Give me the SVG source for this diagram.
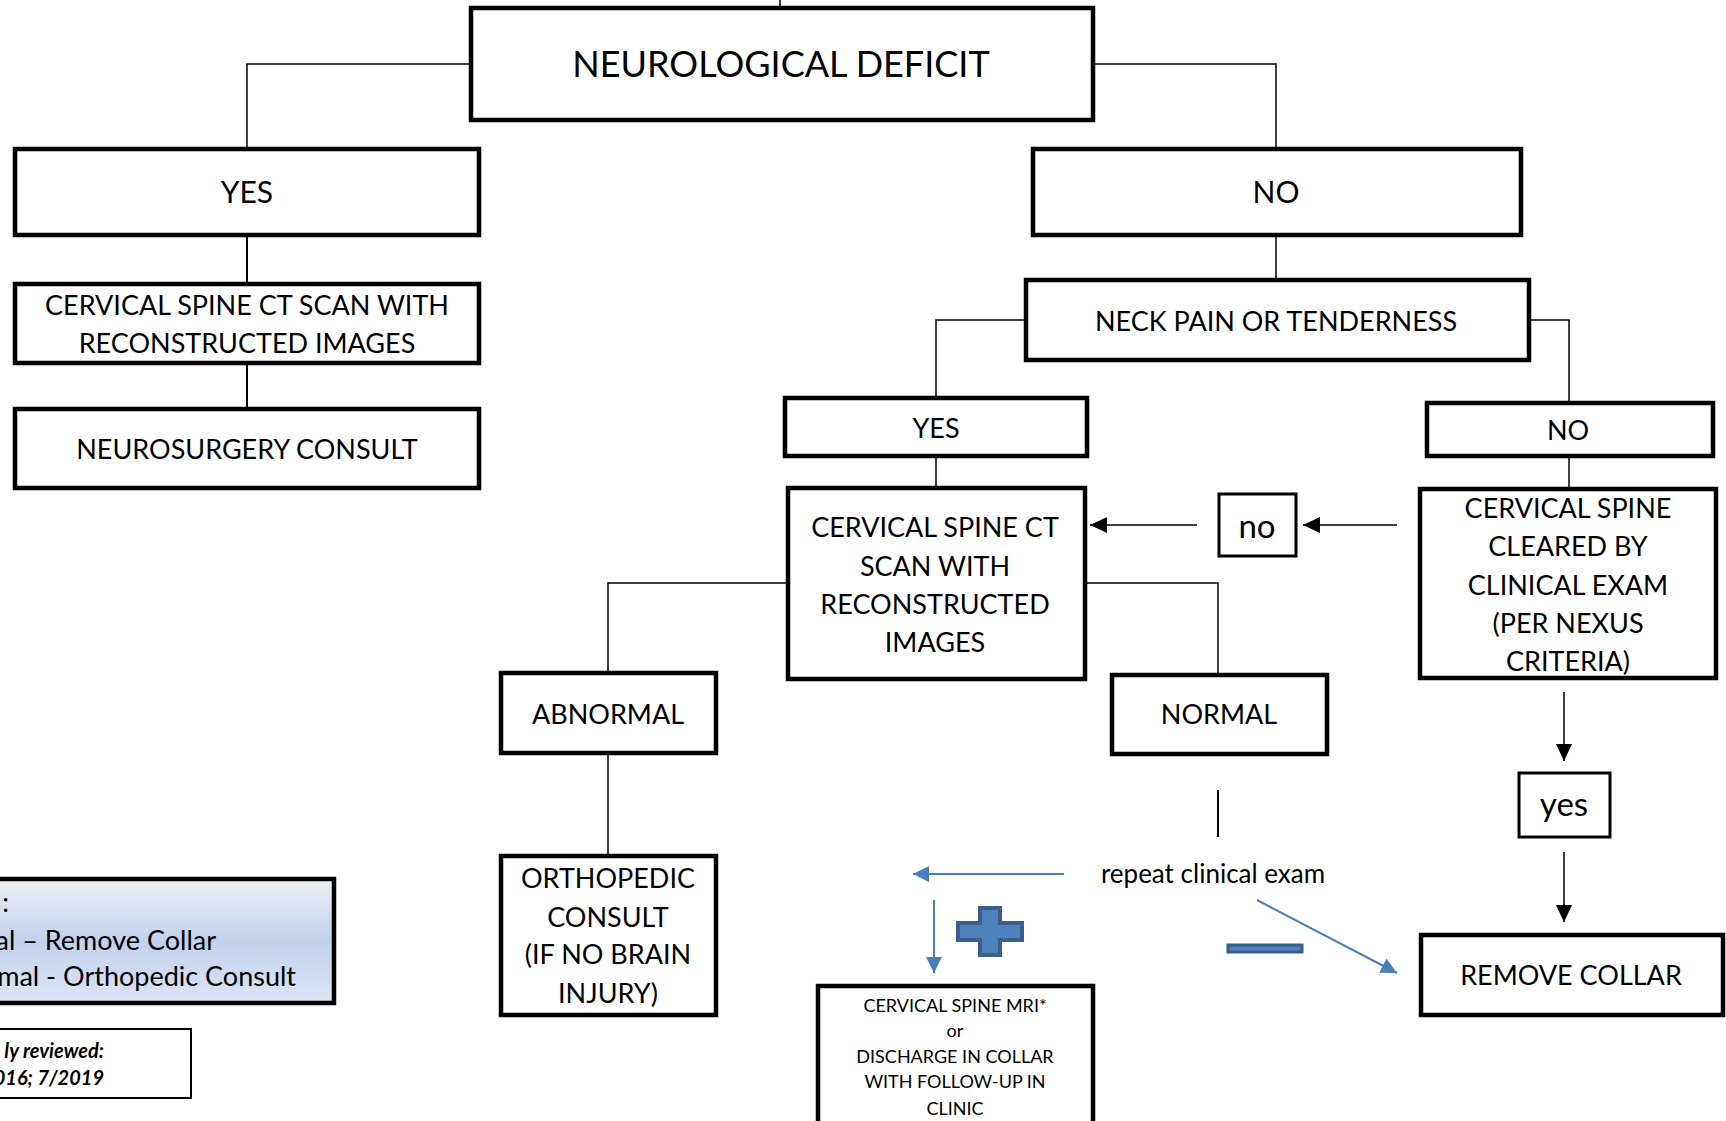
<svg xmlns="http://www.w3.org/2000/svg" width="1726" height="1121" viewBox="0 0 1726 1121">
<defs>
<style>
.box{fill:#fff;stroke:#000;stroke-width:4.5}
.sbox{fill:#fff;stroke:#000;stroke-width:3}
.c{fill:none;stroke:#000;stroke-width:1.5}
.c2{fill:none;stroke:#000;stroke-width:2}
.a{fill:none;stroke:#000;stroke-width:1.5;marker-end:url(#ah)}
.b{fill:none;stroke:#4a7ebb;stroke-width:2;marker-end:url(#bh)}
text{font-family:Lato,"Open Sans","Liberation Sans",sans-serif;fill:#000;text-anchor:middle}
.f1{font-size:36px}
.f2{font-size:30px}
.f3{font-size:27px}
.f5{font-size:33px}
.f6{font-size:26px}
.f4{font-size:18px}
.rv{font-size:20px;font-weight:bold;font-style:italic;text-anchor:end}
.lg{font-size:27px;text-anchor:end}
</style>
<marker id="ah" markerUnits="userSpaceOnUse" markerWidth="18" markerHeight="16" refX="17" refY="8" orient="auto">
<path d="M0,0 L17,8 L0,16 z" fill="#000"/>
</marker>
<marker id="bh" markerUnits="userSpaceOnUse" markerWidth="17" markerHeight="16" refX="16" refY="8" orient="auto">
<path d="M0,0 L16,8 L0,16 z" fill="#4a7ebb"/>
</marker>
<linearGradient id="lgGrad" x1="0" y1="0" x2="0" y2="1">
<stop offset="0" stop-color="#eef0f4"/>
<stop offset="0.5" stop-color="#c2d1ee"/>
<stop offset="1" stop-color="#dde5f4"/>
</linearGradient>
</defs>

<g id="connectors">
<line class="c" x1="780" y1="0" x2="780" y2="8"/>
<path class="c" d="M471,64 H247 V149"/>
<path class="c" d="M1093,64 H1276 V149"/>
<line class="c2" x1="247" y1="237" x2="247" y2="284"/>
<line class="c2" x1="247" y1="365" x2="247" y2="409"/>
<line class="c" x1="1276" y1="237" x2="1276" y2="280"/>
<path class="c" d="M1026,320 H936 V398"/>
<path class="c" d="M1529,320 H1569 V403"/>
<line class="c" x1="936" y1="456" x2="936" y2="488"/>
<line class="c" x1="1569" y1="456" x2="1569" y2="489"/>
<path class="c" d="M788,583 H608 V673"/>
<path class="c" d="M1085,583 H1218 V675"/>
<line class="c" x1="608" y1="753" x2="608" y2="856"/>
<line class="c2" x1="1218" y1="790" x2="1218" y2="837"/>
<line class="a" x1="1197" y1="525" x2="1090" y2="525"/>
<line class="a" x1="1397" y1="525" x2="1303" y2="525"/>
<line class="a" x1="1564" y1="692" x2="1564" y2="761"/>
<line class="a" x1="1564" y1="852" x2="1564" y2="922"/>
<line class="b" x1="1064" y1="874" x2="913" y2="874"/>
<line class="b" x1="934" y1="900" x2="934" y2="973"/>
<line class="b" x1="1257" y1="900" x2="1397" y2="973"/>
</g>

<g id="neurological-deficit">
<rect class="box" x="471" y="8" width="622" height="112"/>
<text class="f1" x="781" y="77">NEUROLOGICAL DEFICIT</text>
</g>
<g id="yes-1">
<rect class="box" x="15" y="149" width="464" height="86"/>
<text class="f2" x="247" y="203">YES</text>
</g>
<g id="ct-scan-1">
<rect class="box" x="15" y="284" width="464" height="79"/>
<text class="f3" x="247" y="315">CERVICAL SPINE CT SCAN WITH</text>
<text class="f3" x="247" y="353">RECONSTRUCTED IMAGES</text>
</g>
<g id="neurosurgery-consult">
<rect class="box" x="15" y="409" width="464" height="79"/>
<text class="f3" x="247" y="459">NEUROSURGERY CONSULT</text>
</g>
<g id="no-1">
<rect class="box" x="1033" y="149" width="488" height="86"/>
<text class="f2" x="1276" y="203">NO</text>
</g>
<g id="neck-pain">
<rect class="box" x="1026" y="280" width="503" height="80"/>
<text class="f3" x="1276" y="331">NECK PAIN OR TENDERNESS</text>
</g>
<g id="yes-2">
<rect class="box" x="785" y="398" width="302" height="58"/>
<text class="f3" x="936" y="438">YES</text>
</g>
<g id="no-2">
<rect class="box" x="1427" y="403" width="286" height="53"/>
<text class="f3" x="1568" y="440">NO</text>
</g>
<g id="ct-scan-2">
<rect class="box" x="788" y="488" width="297" height="191"/>
<text class="f3" x="935" y="537">CERVICAL SPINE CT</text>
<text class="f3" x="935" y="576">SCAN WITH</text>
<text class="f3" x="935" y="614">RECONSTRUCTED</text>
<text class="f3" x="935" y="652">IMAGES</text>
</g>
<g id="no-label">
<rect class="sbox" x="1219" y="494" width="77" height="62"/>
<text class="f5" x="1257" y="538">no</text>
</g>
<g id="cleared">
<rect class="box" x="1420" y="489" width="296" height="189"/>
<text class="f3" x="1568" y="518">CERVICAL SPINE</text>
<text class="f3" x="1568" y="556">CLEARED BY</text>
<text class="f3" x="1568" y="595">CLINICAL EXAM</text>
<text class="f3" x="1568" y="633">(PER NEXUS</text>
<text class="f3" x="1568" y="671">CRITERIA)</text>
</g>
<g id="abnormal">
<rect class="box" x="501" y="673" width="215" height="80"/>
<text class="f3" x="608" y="724">ABNORMAL</text>
</g>
<g id="normal">
<rect class="box" x="1112" y="675" width="215" height="79"/>
<text class="f3" x="1219" y="724">NORMAL</text>
</g>
<g id="orthopedic-consult">
<rect class="box" x="501" y="856" width="215" height="159"/>
<text class="f3" x="608" y="888">ORTHOPEDIC</text>
<text class="f3" x="608" y="927">CONSULT</text>
<text class="f3" x="608" y="964">(IF NO BRAIN</text>
<text class="f3" x="608" y="1003">INJURY)</text>
</g>
<g id="yes-label">
<rect class="sbox" x="1519" y="773" width="91" height="64"/>
<text class="f5" x="1564" y="816">yes</text>
</g>
<g id="repeat-exam">
<text class="f6" x="1213" y="883">repeat clinical exam</text>
</g>
<g id="plus">
<path d="M980,908 H1000 V923 H1022 V940 H1000 V955 H980 V940 H958 V923 H980 Z" fill="#4f81bd" stroke="#3a5f8d" stroke-width="4"/>
</g>
<g id="minus">
<rect x="1228" y="945" width="74" height="7" fill="#4f81bd" stroke="#3a5f8d" stroke-width="3"/>
</g>
<g id="remove-collar">
<rect class="box" x="1421" y="935" width="302" height="80"/>
<text class="f3" x="1571" y="985">REMOVE COLLAR</text>
</g>
<g id="mri-discharge">
<rect class="box" x="818" y="986" width="275" height="150"/>
<text class="f4" x="955" y="1012">CERVICAL SPINE MRI*</text>
<text class="f4" x="955" y="1037">or</text>
<text class="f4" x="955" y="1063">DISCHARGE IN COLLAR</text>
<text class="f4" x="955" y="1088">WITH FOLLOW-UP IN</text>
<text class="f4" x="955" y="1115">CLINIC</text>
</g>
<g id="legend">
<rect x="-10" y="879" width="344" height="124" fill="url(#lgGrad)" stroke="#000" stroke-width="4.5"/>
<text class="lg" x="9" y="912">:</text>
<text class="lg" x="216" y="950">al – Remove Collar</text>
<text class="lg" x="296" y="986">mal - Orthopedic Consult</text>
</g>
<g id="reviewed">
<rect x="-10" y="1029" width="201" height="69" fill="#fff" stroke="#000" stroke-width="2"/>
<text class="rv" x="104" y="1058">ly reviewed:</text>
<text class="rv" x="104" y="1085">016; 7/2019</text>
</g>
</svg>
